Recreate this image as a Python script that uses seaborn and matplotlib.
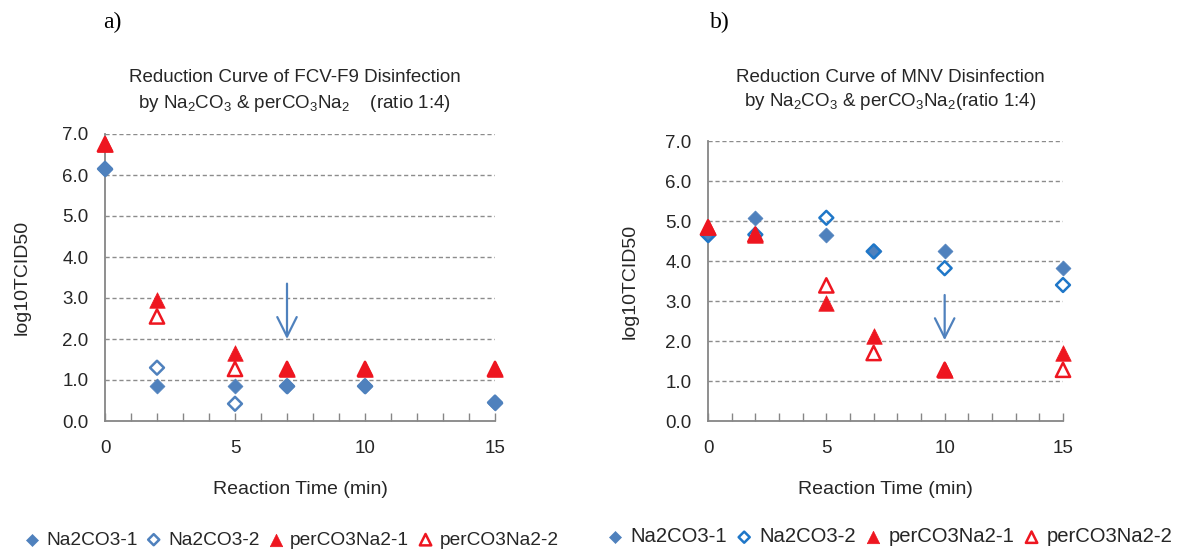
import numpy as np
import pandas as pd
import matplotlib
matplotlib.use("Agg")
import matplotlib.pyplot as plt
from matplotlib.ticker import MultipleLocator, FormatStrFormatter
import seaborn as sns

# ---------------- data ----------------
time = [0, 2, 5, 7, 10, 15]
series_names = ["Na2CO3-1", "Na2CO3-2", "perCO3Na2-1", "perCO3Na2-2"]

a_na1 = [6.15, 0.85, 0.85, 0.85, 0.85, 0.45]
a_na2 = [6.15, 1.30, 0.42, 0.85, 0.85, 0.45]
a_per1 = [6.75, 2.95, 1.67, 1.27, 1.27, 1.27]
a_per2 = [6.75, 2.55, 1.27, 1.27, 1.27, 1.27]

b_na1 = [4.65, 5.08, 4.66, 4.24, 4.24, 3.82]
b_na2 = [4.65, 4.66, 5.08, 4.24, 3.82, 3.40]
b_per1 = [4.84, 4.66, 2.96, 2.13, 1.28, 1.70]
b_per2 = [4.84, 4.66, 3.39, 1.70, 1.28, 1.28]

yticks = [0.0, 1.0, 2.0, 3.0, 4.0, 5.0, 6.0, 7.0]
xticks = [0, 5, 10, 15]

title_a = ["Reduction Curve of FCV-F9 Disinfection",
           r"by Na$_2$CO$_3$ & perCO$_3$Na$_2$    (ratio 1:4)"]
title_b = ["Reduction Curve of MNV Disinfection",
           r"by Na$_2$CO$_3$ & perCO$_3$Na$_2$(ratio 1:4)"]
xlabel = "Reaction Time (min)"
ylabel = "log10TCID50"
arrow_a = (7, 3.35, 2.0)
arrow_b = (10, 3.15, 2.02)

# ---------------- style ----------------
sns.set_theme(style="white")
plt.rcParams["font.family"] = ["Liberation Sans", "DejaVu Sans"]
plt.rcParams["mathtext.fontset"] = "custom"
plt.rcParams["mathtext.rm"] = "Liberation Sans"
plt.rcParams["mathtext.it"] = "Liberation Sans"
plt.rcParams["mathtext.default"] = "regular"

BLUE = "#4F81BD"
BLUE2_B = "#1F77C8"
RED = "#EE1620"
GRID = "#8C8C8C"
TXT = "#262626"

fig = plt.figure(figsize=(11.94, 5.53), dpi=100)
W, H = 1194, 553

def fx(px):
    return px / W

def fy(py):
    return 1 - py / H

ax_a = fig.add_axes([fx(105), fy(421), fx(495) - fx(105), fy(134) - fy(421)])
ax_b = fig.add_axes([fx(708), fy(421), fx(1063) - fx(708), fy(141) - fy(421)])


def draw_panel(ax, vals, open_blue):
    df = pd.DataFrame({"time": time * 4,
                       "value": sum(vals, []),
                       "series": sum([[n] * len(time) for n in series_names], [])})
    specs = {
        "Na2CO3-1": dict(marker="D", s=58, color=BLUE, edgecolor=BLUE, linewidth=0.5),
        "Na2CO3-2": dict(marker="D", s=50, facecolor="none", edgecolor=open_blue, linewidth=1.8),
        "perCO3Na2-1": dict(marker="^", s=125, color=RED, edgecolor=RED, linewidth=0.5),
        "perCO3Na2-2": dict(marker="^", s=105, facecolor="none", edgecolor=RED, linewidth=1.8),
    }
    for name in series_names:
        sub = df[df["series"] == name]
        sns.scatterplot(data=sub, x="time", y="value", ax=ax, label=name,
                        clip_on=False, zorder=3, **specs[name])
    ax.set_xlim(0, 15)
    ax.set_ylim(0, 7)
    ax.set_yticks(yticks)
    ax.yaxis.set_major_formatter(FormatStrFormatter("%.1f"))
    ax.set_xticks(xticks)
    ax.xaxis.set_minor_locator(MultipleLocator(1))
    for y in yticks[1:]:
        ax.axhline(y, color=GRID, lw=1.0, ls=(0, (3, 2)), zorder=1)
    for s in ["top", "right"]:
        ax.spines[s].set_visible(False)
    for s in ["left", "bottom"]:
        ax.spines[s].set_color("#868686")
        ax.spines[s].set_linewidth(1.3)
    ax.tick_params(axis="x", which="both", direction="in", color="#868686",
                   width=1.0, bottom=True, pad=14, labelsize=13.5, labelcolor=TXT)
    ax.tick_params(axis="x", which="major", length=6)
    ax.tick_params(axis="x", which="minor", length=6)
    ax.tick_params(axis="y", which="both", length=0, pad=12, labelsize=13.5,
                   labelcolor=TXT)
    ax.set_xlabel(xlabel, fontsize=14, color=TXT)
    ax.set_ylabel(ylabel, fontsize=14, color=TXT)
    ax.xaxis.label.set_va("center")
    ax.yaxis.label.set_va("center")
    ax.get_legend().remove()
    ax.set_facecolor("none")


draw_panel(ax_a, [a_na1, a_na2, a_per1, a_per2], BLUE)
draw_panel(ax_b, [b_na1, b_na2, b_per1, b_per2], BLUE2_B)

ax_a.xaxis.set_label_coords(0.5, (421 - 489) / 287)
ax_a.yaxis.set_label_coords((22 - 105) / 390, 0.5)
ax_b.xaxis.set_label_coords(0.5, (421 - 489) / 280)
ax_b.yaxis.set_label_coords((630 - 708) / 355, 0.5)

for ax, (xa, y0, y1) in [(ax_a, arrow_a), (ax_b, arrow_b)]:
    ax.annotate("", xy=(xa, y1), xytext=(xa, y0),
                arrowprops=dict(arrowstyle="->,head_length=1.4,head_width=0.7",
                                mutation_scale=10, color=BLUE, lw=1.6,
                                shrinkA=0, shrinkB=0), zorder=4)

# titles
fig.text(fx(295), fy(78), title_a[0], ha="center", va="center", fontsize=13.5, color=TXT)
fig.text(fx(295), fy(103), title_a[1], ha="center", va="center", fontsize=13.5, color=TXT)
fig.text(fx(890), fy(78), title_b[0], ha="center", va="center", fontsize=13.5, color=TXT)
fig.text(fx(890), fy(101), title_b[1], ha="center", va="center", fontsize=13.5, color=TXT)
fig.text(fx(112), fy(22), "a)", ha="center", va="center", fontsize=17,
         family="Liberation Serif", color="black")
fig.text(fx(720), fy(22), "b)", ha="center", va="center", fontsize=17,
         family="Liberation Serif", color="black")

# legends
for ax, x0, y0, fs in [(ax_a, 24, 540, 13.8), (ax_b, 607, 537, 14.6)]:
    h, l = ax.get_legend_handles_labels()
    fig.legend(h, l, loc="center left", bbox_to_anchor=(fx(x0), fy(y0)), ncol=4,
               frameon=False, fontsize=fs, handlelength=0.8, handletextpad=0.35,
               columnspacing=0.45, markerscale=0.8, borderaxespad=0, borderpad=0,
               labelcolor=TXT)

fig.savefig("out.png", dpi=100)
